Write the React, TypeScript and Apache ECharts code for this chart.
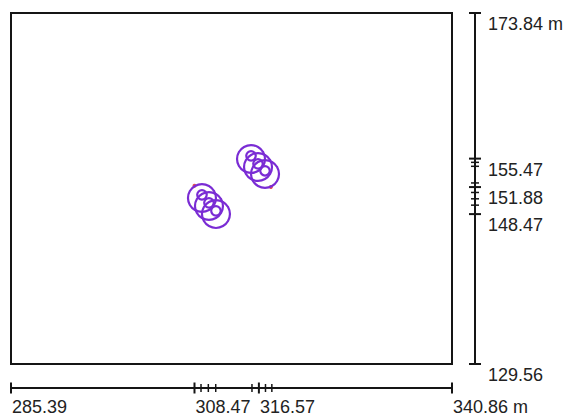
import React, { useEffect, useRef } from "react";
import * as echarts from "echarts";

// Axis ranges (metres)
const xRange = [285.39, 340.86];
const yRange = [129.56, 173.84];

// Tick values and labels
const xMajorTicks = [285.39, 308.47, 316.57, 340.86];
const xTickLabels = ["285.39", "308.47", "316.57", "340.86 m"];
const xMinorTicks = [309.29, 310.21, 311.14, 315.7, 317.4, 318.2];
const yMajorTicks = [173.84, 155.47, 151.88, 148.47, 129.56];
const yTickLabels = ["173.84 m", "155.47", "151.88", "148.47", "129.56"];
const yMinorTicks = [155.0, 154.5, 152.4, 151.2, 150.4, 149.6];

// Track loops (x, y in metres)
const leftCircles = [
  [[311.17,150.50],[310.93,151.38],[310.29,152.02],[309.41,152.26],[308.53,152.02],[307.89,151.38],[307.65,150.50],[307.89,149.62],[308.53,148.98],[309.41,148.74],[310.29,148.98],[310.93,149.62]],
  [[312.05,149.49],[311.81,150.37],[311.17,151.01],[310.29,151.25],[309.41,151.01],[308.77,150.37],[308.53,149.49],[308.77,148.61],[309.41,147.97],[310.29,147.73],[311.17,147.97],[311.81,148.61]],
  [[312.93,148.48],[312.69,149.36],[312.05,150.00],[311.17,150.24],[310.29,150.00],[309.65,149.36],[309.41,148.48],[309.65,147.60],[310.29,146.96],[311.17,146.72],[312.05,146.96],[312.69,147.60]],
];
const rightCircles = [
  [[317.34,155.42],[317.10,156.30],[316.46,156.94],[315.58,157.18],[314.70,156.94],[314.06,156.30],[313.82,155.42],[314.06,154.54],[314.70,153.90],[315.58,153.66],[316.46,153.90],[317.10,154.54]],
  [[318.22,154.41],[317.98,155.29],[317.34,155.93],[316.46,156.17],[315.58,155.93],[314.94,155.29],[314.70,154.41],[314.94,153.53],[315.58,152.89],[316.46,152.65],[317.34,152.89],[317.98,153.53]],
  [[319.10,153.53],[318.86,154.41],[318.22,155.05],[317.34,155.29],[316.46,155.05],[315.82,154.41],[315.58,153.53],[315.82,152.65],[316.46,152.01],[317.34,151.77],[318.22,152.01],[318.86,152.65]],
];
const leftInnerLoops = [
  [[310.01,150.90],[309.83,151.32],[309.41,151.50],[308.99,151.32],[308.81,150.90],[308.99,150.48],[309.41,150.30],[309.83,150.48]],
  [[310.89,149.89],[310.71,150.31],[310.29,150.49],[309.87,150.31],[309.69,149.89],[309.87,149.47],[310.29,149.29],[310.71,149.47]],
  [[311.77,148.88],[311.59,149.30],[311.17,149.48],[310.75,149.30],[310.57,148.88],[310.75,148.46],[311.17,148.28],[311.59,148.46]],
];
const rightInnerLoops = [
  [[316.18,155.82],[316.00,156.24],[315.58,156.42],[315.16,156.24],[314.98,155.82],[315.16,155.40],[315.58,155.22],[316.00,155.40]],
  [[317.06,154.81],[316.88,155.23],[316.46,155.41],[316.04,155.23],[315.86,154.81],[316.04,154.39],[316.46,154.21],[316.88,154.39]],
  [[317.94,153.93],[317.76,154.35],[317.34,154.53],[316.92,154.35],[316.74,153.93],[316.92,153.51],[317.34,153.33],[317.76,153.51]],
];
const markerPoints = [[308.47, 152.05], [318.08, 151.88]];

const TRACK = "#7a2cd4";
const INK = "#151515";
const TEXT = "#222222";
const FONT = "'Liberation Sans', Arial, sans-serif";

export default function App() {
  const ref = useRef<HTMLDivElement>(null);
  useEffect(() => {
    if (!ref.current) return;
    const chart = echarts.init(ref.current, null, { renderer: "svg" });

    const loops = [...leftCircles, ...rightCircles, ...leftInnerLoops, ...rightInnerLoops];
    const loopSeries = loops.map((pts) => ({
      type: "line",
      xAxisIndex: 0,
      yAxisIndex: 0,
      data: [...pts, pts[0], pts[1]],
      smooth: 0.5,
      showSymbol: false,
      silent: true,
      lineStyle: { color: TRACK, width: 2.2 },
    }));

    const textStyle = (text: string) => ({
      text,
      fill: TEXT,
      fontSize: 18,
      lineHeight: 18,
      fontFamily: FONT,
      align: "left",
      verticalAlign: "middle",
    });

    const option: any = {
      animation: false,
      backgroundColor: "#ffffff",
      grid: [
        { left: 11, top: 13, width: 441, height: 351, show: true, borderColor: INK, borderWidth: 2, backgroundColor: "transparent" },
        { left: 11, top: 378, width: 441, height: 20 },
        { left: 465, top: 13, width: 20, height: 351 },
      ],
      xAxis: [
        { gridIndex: 0, type: "value", min: xRange[0], max: xRange[1], show: false },
        {
          gridIndex: 1, type: "value", min: xRange[0], max: xRange[1],
          axisLine: { show: true, onZero: true, lineStyle: { color: INK, width: 2 } },
          axisTick: { show: false }, axisLabel: { show: false }, splitLine: { show: false },
        },
        { gridIndex: 2, type: "value", min: -1, max: 1, show: false },
      ],
      yAxis: [
        { gridIndex: 0, type: "value", min: yRange[0], max: yRange[1], show: false },
        { gridIndex: 1, type: "value", min: -1, max: 1, show: false },
        {
          gridIndex: 2, type: "value", min: yRange[0], max: yRange[1],
          axisLine: { show: true, onZero: true, lineStyle: { color: INK, width: 2 } },
          axisTick: { show: false }, axisLabel: { show: false }, splitLine: { show: false },
        },
      ],
      series: [
        ...loopSeries,
        {
          type: "scatter",
          xAxisIndex: 0,
          yAxisIndex: 0,
          data: markerPoints,
          symbolSize: 4,
          itemStyle: { color: "#e0202a" },
          silent: true,
        },
        {
          type: "custom",
          xAxisIndex: 1,
          yAxisIndex: 1,
          data: xMajorTicks.map((v) => [v, 0]),
          renderItem: (params: any, api: any) => {
            const p = api.coord([api.value(0), 0]);
            return {
              type: "group",
              children: [
                { type: "line", shape: { x1: p[0], y1: p[1] - 5.5, x2: p[0], y2: p[1] + 5.5 }, style: { stroke: INK, lineWidth: 2 } },
                { type: "text", x: p[0] + 1, y: p[1] + 19, style: textStyle(xTickLabels[params.dataIndex]) },
              ],
            };
          },
        },
        {
          type: "custom",
          xAxisIndex: 1,
          yAxisIndex: 1,
          data: xMinorTicks.map((v) => [v, 0]),
          renderItem: (params: any, api: any) => {
            const p = api.coord([api.value(0), 0]);
            return { type: "line", shape: { x1: p[0], y1: p[1] - 4, x2: p[0], y2: p[1] + 4 }, style: { stroke: INK, lineWidth: 1.5 } };
          },
        },
        {
          type: "custom",
          xAxisIndex: 2,
          yAxisIndex: 2,
          data: yMajorTicks.map((v) => [0, v]),
          renderItem: (params: any, api: any) => {
            const p = api.coord([0, api.value(1)]);
            return {
              type: "group",
              children: [
                { type: "line", shape: { x1: p[0] - 6, y1: p[1], x2: p[0] + 6, y2: p[1] }, style: { stroke: INK, lineWidth: 2 } },
                { type: "text", x: p[0] + 13, y: p[1] + 11, style: textStyle(yTickLabels[params.dataIndex]) },
              ],
            };
          },
        },
        {
          type: "custom",
          xAxisIndex: 2,
          yAxisIndex: 2,
          data: yMinorTicks.map((v) => [0, v]),
          renderItem: (params: any, api: any) => {
            const p = api.coord([0, api.value(1)]);
            return { type: "line", shape: { x1: p[0] - 4, y1: p[1], x2: p[0] + 4, y2: p[1] }, style: { stroke: INK, lineWidth: 1.5 } };
          },
        },
      ],
    };
    chart.setOption(option);
    return () => chart.dispose();
  }, []);

  return (
    <div
      ref={ref}
      style={{ position: "fixed", left: 0, top: 0, width: 568, height: 418, background: "#fff" }}
    />
  );
}
